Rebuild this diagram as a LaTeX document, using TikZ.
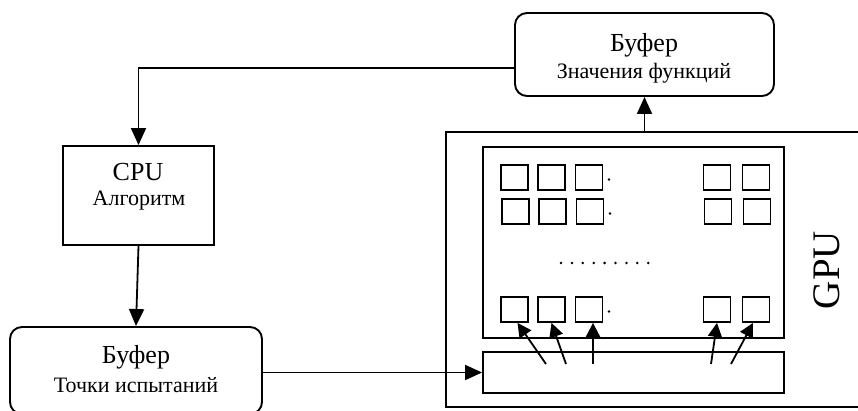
\documentclass[tikz,border=0pt]{standalone}
\usepackage{fontspec}
\setmainfont{Liberation Serif}
\usetikzlibrary{arrows.meta,calc}

\tikzset{
  bigfont/.style={font=\fontsize{26}{28}\selectfont},
  smallfont/.style={font=\fontsize{22}{24}\selectfont},
  bufbox/.style={draw, line width=1.9pt, rounded corners=12pt, inner sep=0pt},
  plainbox/.style={draw, line width=1.9pt, inner sep=0pt},
  cell/.style={draw, line width=1.8pt, inner sep=0pt, minimum width=27pt, minimum height=25pt},
  arr/.style={line width=1.8pt, -{Triangle[length=17pt,width=15pt]}},
  sarr/.style={line width=1.8pt, -{Triangle[length=14pt,width=14pt]}}
}

\begin{document}
\begin{tikzpicture}[x=1pt,y=-1pt]
			\useasboundingbox (0,0) rectangle (858,411);

			% buffers and CPU
			\node[bufbox, minimum width=259pt, minimum height=83pt] (topbuf) at (644.5,54.5) {};
			\node[bigfont] (topbufA) at (644,45) {Буфер};
			\node[smallfont] (topbufB) at (644,73) {Значения функций};

			\node[plainbox, minimum width=151pt, minimum height=99pt] (cpu) at (138.5,195.5) {};
			\node[bigfont] (cpuA) at (138,172) {CPU};
			\node[smallfont] (cpuB) at (139,201) {Алгоритм};

			\node[bufbox, minimum width=252pt, minimum height=87pt] (botbuf) at (136,370.5) {};
			\node[bigfont] (botbufA) at (136,357) {Буфер};
			\node[smallfont] (botbufB) at (136,385) {Точки испытаний};

			% GPU
			\node[plainbox, minimum width=440pt, minimum height=275pt] (gpu) at (666,269.5) {};
			\node[plainbox, minimum width=301pt, minimum height=191pt] (proc) at (633.5,242.5) {};
			\node[plainbox, minimum width=301pt, minimum height=41pt] (bar) at (633.5,372.5) {};
			\node[rotate=90, font=\fontsize{39}{40}\selectfont] (gpulabel) at (827,270) {GPU};

			\foreach \r/\y/\dx in {1/177.5/0, 2/211.5/1, 3/309.5/0} {
				\foreach \c/\x in {1/514.5, 2/551.5, 3/589, 4/717, 5/756}
					\node[cell] (c\r\c) at (\x+\dx,\y) {};
				\fill (609+\dx,\y+2) circle (1.3pt);
			}
			\foreach \i in {0,...,8}
				\fill (561+10.9*\i,263) circle (1.4pt);

			% connectors
			\draw[arr] (topbuf.west |- 0,68) -| (cpu.north);
			\draw[arr] (cpu.south) -- (botbuf.north);
			\draw[arr] (botbuf.east |- bar.west) -- (bar.west);
			\draw[arr] (topbuf.south |- gpu.north) -- (topbuf.south);

			\coordinate (s1) at (546,364);
			\coordinate (s2) at (566,364);
			\coordinate (s3) at (593,364);
			\coordinate (s4) at (711,364);
			\coordinate (s5) at (731,364);
			\draw[sarr] (s1) -- ($(c31.south)+(3,0)$);
			\draw[sarr] (s2) -- (c32.south);
			\draw[sarr] (s3) -- ($(c33.south)+(4,0)$);
			\draw[sarr] (s4) -- (c34.south);
			\draw[sarr] (s5) -- ($(c35.south)+(-3,0)$);
		\end{tikzpicture}
\end{document}
